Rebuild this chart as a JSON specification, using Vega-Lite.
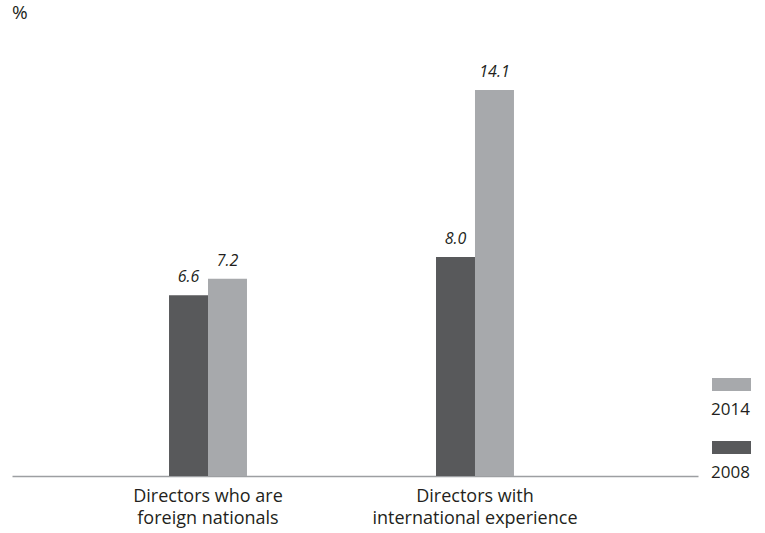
{
  "$schema": "https://vega.github.io/schema/vega-lite/v6.json",
  "autosize": {"type": "none"},
  "width": 686,
  "height": 446,
  "padding": {"left": 12, "top": 30, "right": 67, "bottom": 57},
  "background": "white",
  "config": {
    "font": "Open Sans",
    "view": {"stroke": null}
  },
  "title": {"text": "%", "anchor": "start", "frame": "group", "offset": 7, "fontSize": 19, "fontWeight": "normal", "color": "#231f20", "font": "Open Sans"},
  "data": {
    "values": [
      {"category": "Directors who are foreign nationals", "year": "2008", "value": 6.6},
      {"category": "Directors who are foreign nationals", "year": "2014", "value": 7.2},
      {"category": "Directors with international experience", "year": "2008", "value": 8.0},
      {"category": "Directors with international experience", "year": "2014", "value": 14.1}
    ]
  },
  "encoding": {
    "x": {
      "field": "category",
      "type": "nominal",
      "sort": null,
      "scale": {"paddingInner": 0.708, "paddingOuter": 0.6387, "align": 0.4604},
      "axis": {
        "title": null,
        "labelAngle": 0,
        "ticks": false,
        "domainColor": "#9d9fa2",
        "domainWidth": 1.5,
        "labelFontSize": 18,
        "labelColor": "#231f20",
        "labelPadding": 11,
        "labelLineHeight": 22,
        "labelLimit": 400,
        "labelExpr": "datum.value == 'Directors who are foreign nationals' ? ['Directors who are', 'foreign nationals'] : ['Directors with', 'international experience']"
      }
    },
    "xOffset": {
      "field": "year",
      "type": "nominal",
      "sort": ["2008", "2014"],
      "scale": {"paddingInner": 0, "paddingOuter": 0}
    },
    "y": {
      "field": "value",
      "type": "quantitative",
      "scale": {"domain": [0, 16.29], "nice": false},
      "axis": null
    }
  },
  "layer": [
    {
      "mark": {"type": "bar"},
      "encoding": {
        "color": {
          "field": "year",
          "type": "nominal",
          "scale": {"domain": ["2014", "2008"], "range": ["#a7a9ac", "#58595b"]},
          "legend": {
            "title": null,
            "orient": "none",
            "legendX": 700,
            "legendY": 360,
            "symbolType": "M-1,-1.62H1V-0.95H-1Z",
            "symbolSize": 1521,
            "symbolStrokeWidth": 0,
            "symbolOpacity": 1,
            "labelFontSize": 17,
            "labelColor": "#231f20",
            "labelOffset": -40,
            "rowPadding": 22
          }
        }
      }
    },
    {
      "mark": {"type": "text", "baseline": "alphabetic", "dy": -13, "fontSize": 16, "fontStyle": "italic", "color": "#231f20"},
      "encoding": {
        "text": {"field": "value", "type": "quantitative", "format": ".1f"}
      }
    }
  ]
}
